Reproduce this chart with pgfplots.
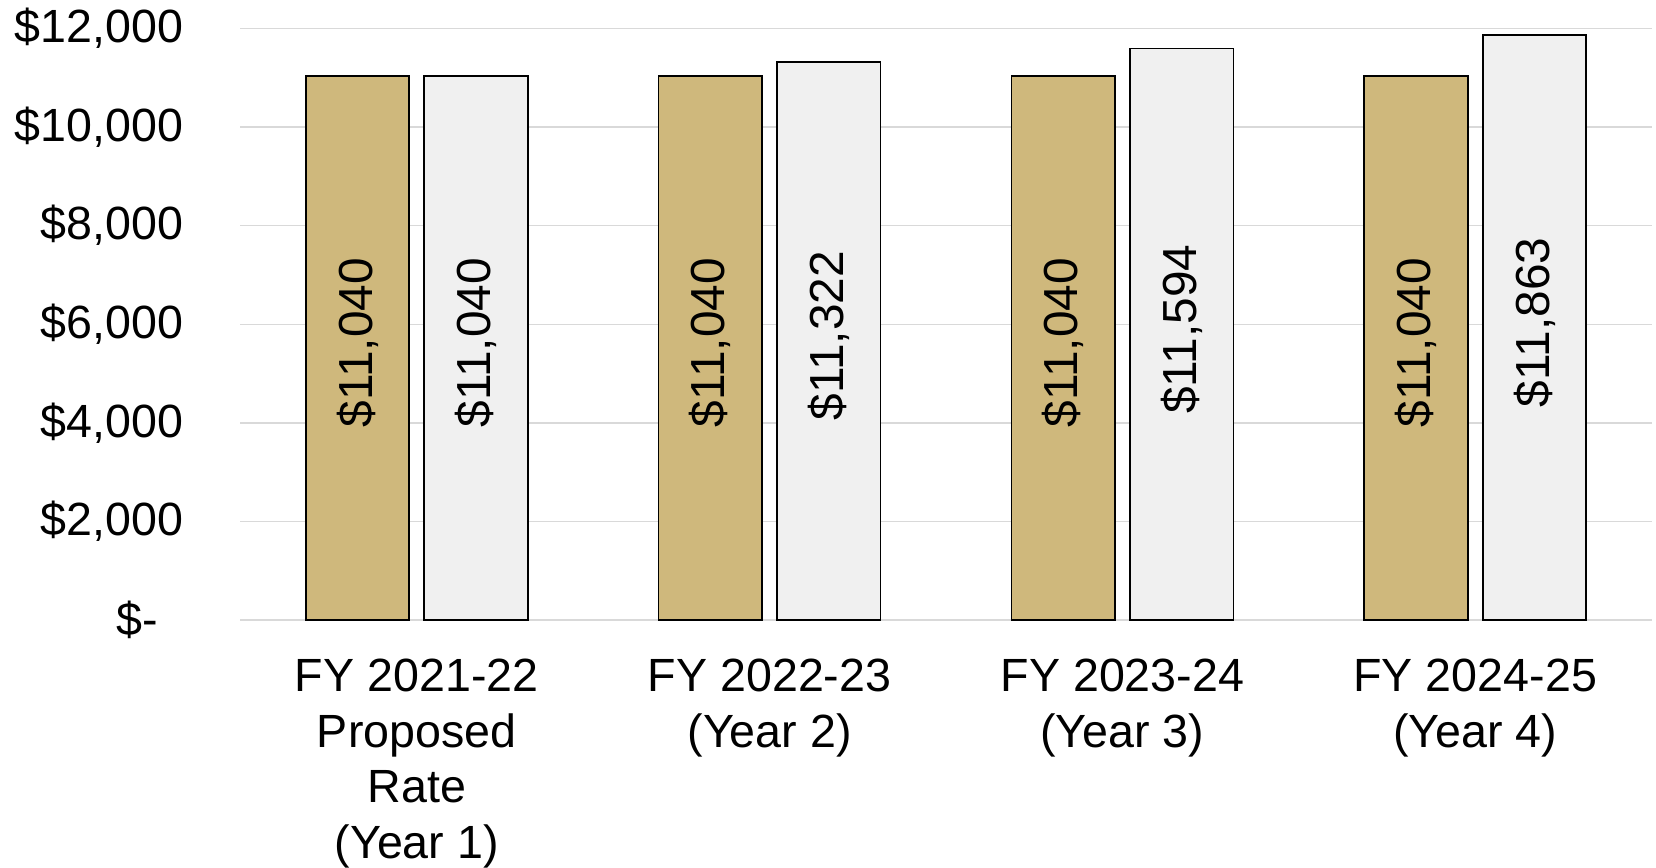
\documentclass[border=0pt]{standalone}
\usepackage{fontspec}
\setmainfont{Liberation Sans}
\usepackage{pgfplots}
\pgfplotsset{compat=1.18}
\definecolor{gold}{HTML}{CFB87C}
\definecolor{lgray}{HTML}{F0F0F0}
\definecolor{gridc}{HTML}{D9D9D9}
\begin{document}
\begin{tikzpicture}
\begin{axis}[
  scale only axis, width=705.7pt, height=295.75pt,
  at={(0pt,0pt)}, anchor=south west,
  ybar=7.5pt, bar width=51.75pt,
  xmin=-0.5, xmax=3.5, ymin=0, ymax=12000,
  scaled y ticks=false,
  xtick={0,1,2,3},
  xticklabels={{FY 2021-22\\Proposed\\Rate\\(Year 1)},{FY 2022-23\\(Year 2)},{FY 2023-24\\(Year 3)},{FY 2024-25\\(Year 4)}},
  ytick={0,2000,4000,6000,8000,10000,12000},
  yticklabels={{\$-\hspace*{12.5pt}},{\$2,000},{\$4,000},{\$6,000},{\$8,000},{\$10,000},{\$12,000}},
  ymajorgrids, grid style={draw=gridc, line width=0.75pt},
  axis line style={draw=none},
  major tick length=0pt,
  tick label style={font=\fontsize{23.3}{27.8}\selectfont},
  xticklabel style={align=center, yshift=-16pt},
  yticklabel style={xshift=-25pt},
  visualization depends on=y \as \rawy,
  nodes near coords={\$\pgfmathprintnumber{\pgfplotspointmeta}},
  every node near coord/.append style={shift={(axis direction cs:0,-\rawy/2)}, yshift=2.6pt, rotate=90, anchor=center, font=\fontsize{23.9}{28}\selectfont, text=black},
  /pgf/number format/1000 sep={,},
  /pgf/number format/assume math mode=true,
]
\addplot[fill=gold, draw=black, line width=0.85pt] coordinates {(0,11040) (1,11040) (2,11040) (3,11040)};
\addplot[fill=lgray, draw=black, line width=0.85pt] coordinates {(0,11040) (1,11322) (2,11594) (3,11863)};
\end{axis}
\pgfresetboundingbox
\path[use as bounding box] (-120.15pt,-124pt) rectangle (707.85pt,310pt);
\end{tikzpicture}
\end{document}
